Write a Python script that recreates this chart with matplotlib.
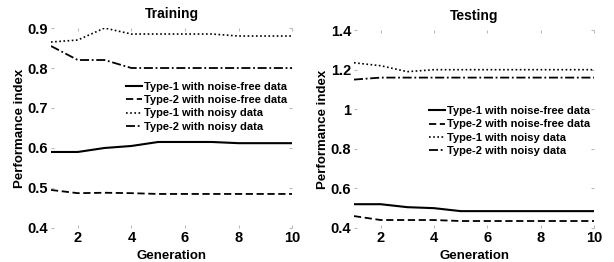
import matplotlib
matplotlib.use("Agg")
import matplotlib.pyplot as plt

plt.rcParams['font.family'] = ['Liberation Sans', 'DejaVu Sans']
plt.rcParams['font.weight'] = 'bold'

generation = [1, 2, 3, 4, 5, 6, 7, 8, 9, 10]
labels = ["Type-1 with noise-free data", "Type-2 with noise-free data",
          "Type-1 with noisy data", "Type-2 with noisy data"]

train_t1_free = [0.590, 0.590, 0.600, 0.605, 0.615, 0.615, 0.615, 0.612, 0.612, 0.612]
train_t2_free = [0.495, 0.487, 0.488, 0.487, 0.485, 0.485, 0.485, 0.485, 0.485, 0.485]
train_t1_noisy = [0.865, 0.870, 0.900, 0.885, 0.885, 0.885, 0.885, 0.880, 0.880, 0.880]
train_t2_noisy = [0.855, 0.820, 0.820, 0.800, 0.800, 0.800, 0.800, 0.800, 0.800, 0.800]

test_t1_free = [0.520, 0.520, 0.505, 0.500, 0.485, 0.485, 0.485, 0.485, 0.485, 0.485]
test_t2_free = [0.460, 0.440, 0.440, 0.440, 0.435, 0.435, 0.435, 0.435, 0.435, 0.435]
test_t1_noisy = [1.235, 1.220, 1.190, 1.200, 1.200, 1.200, 1.200, 1.200, 1.200, 1.200]
test_t2_noisy = [1.150, 1.160, 1.160, 1.160, 1.160, 1.160, 1.160, 1.160, 1.160, 1.160]

styles = [dict(ls='-', lw=1.5), dict(ls=(0, (4, 2)), lw=1.3),
          dict(ls=(0, (1, 1.5)), lw=1.2), dict(ls=(0, (5, 1.5, 1, 1.5)), lw=1.3)]

fig = plt.figure(figsize=(6.14, 2.62), dpi=100)
ax1 = fig.add_axes([0.083, 0.130, 0.393, 0.763])
ax2 = fig.add_axes([0.5765, 0.130, 0.391, 0.755])

def draw(ax, series, title, ylim, yticks, yticklabels, legend_loc):
    for s, st, lab in zip(series, styles, labels):
        ax.plot(generation, s, color='black', label=lab, **st)
    ax.set_xlim(1, 10)
    ax.set_ylim(*ylim)
    ax.set_xticks([2, 4, 6, 8, 10])
    ax.set_yticks(yticks)
    ax.set_yticklabels(yticklabels)
    for sp in ax.spines.values():
        sp.set_visible(False)
    ax.tick_params(length=2, direction='in', color='#bbbbbb', labelsize=10.5,
                   pad=2, top=True, right=True)
    for t in ax.get_xticklabels() + ax.get_yticklabels():
        t.set_fontweight('bold')
    ax.set_title(title, fontsize=10, fontweight='bold', pad=7)
    ax.set_xlabel("Generation", fontsize=9.5, fontweight='bold', labelpad=4)
    ax.set_ylabel("Performance index", fontsize=9.5, fontweight='bold', labelpad=1)
    ax.legend(loc='upper left', bbox_to_anchor=legend_loc, frameon=False,
              handlelength=1.4, handletextpad=0.2,
              labelspacing=0.3, borderpad=0.2, prop={'weight': 'bold', 'size': 8})

draw(ax1, [train_t1_free, train_t2_free, train_t1_noisy, train_t2_noisy],
     "Training", (0.4, 0.9), [0.4, 0.5, 0.6, 0.7, 0.8, 0.9],
     ["0.4", "0.5", "0.6", "0.7", "0.8", "0.9"], (0.28, 0.77))
draw(ax2, [test_t1_free, test_t2_free, test_t1_noisy, test_t2_noisy],
     "Testing", (0.4, 1.4), [0.4, 0.6, 0.8, 1.0, 1.2, 1.4],
     ["0.4", "0.6", "0.8", "1", "1.2", "1.4"], (0.28, 0.655))

fig.savefig("out.png", dpi=100)
